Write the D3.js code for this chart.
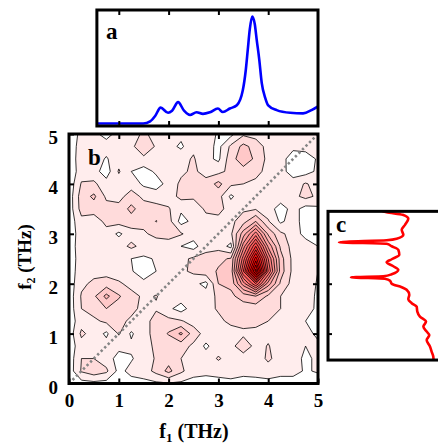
<!DOCTYPE html>
<html><head><meta charset="utf-8">
<script src="https://cdn.jsdelivr.net/npm/d3@7"></script>
<style>
body{margin:0;background:#fff}
text{font-family:"Liberation Serif","Times New Roman",serif;font-weight:bold;fill:#000}
</style>
</head><body>
<svg id="c" width="438" height="445"></svg>
<script>
// ---------------- DATA ----------------
const freqTicks = [0, 1, 2, 3, 4, 5];
const innerTicks = [1, 2, 3, 4];
const levels = [1,2,3,4,5,6,7,8,9,10,11,12,13,14,15,16,17];
// 2D amplitude on 0.25 THz grid; rows from f2 = 5 (top) down to f2 = 0, columns f1 = 0..5
const z = [
 [0.3,1.3,1.2,0.7,1.3,1.5,2.2,1.6,1.4,1.3,1.5,1.4,0.9,0.7,1.8,1.6,1.3,1.4,1.3,1.2,1.0],
 [0.3,1.5,1.6,1.4,1.3,1.8,2.6,1.9,1.4,0.8,1.8,1.5,0.7,2.2,3.3,2.6,1.6,1.5,1.2,1.3,1.2],
 [0.3,1.6,1.5,0.9,1.6,1.5,1.8,1.5,1.6,1.7,2.1,1.3,0.8,2.6,3.6,2.8,1.7,1.3,0.6,0.6,1.1],
 [0.3,1.5,1.4,0.5,2.1,1.0,0.5,1.2,1.6,1.8,2.2,1.6,1.7,2.3,2.6,2.4,1.6,1.4,0.5,0.6,1.2],
 [0.3,2.1,2.2,1.4,1.5,1.6,0.8,0.5,1.4,2.2,2.3,2.4,3.3,2.2,2.0,1.7,1.4,1.6,1.5,2.1,1.6],
 [0.4,2.5,3.2,1.8,1.7,2.4,1.8,1.6,1.5,2.3,2.2,2.5,2.4,0.8,1.7,2.0,1.6,1.6,1.7,2.3,1.8],
 [0.4,2.4,2.5,2.4,2.3,3.3,2.4,2.3,2.1,1.2,1.3,2.2,2.3,1.6,1.8,1.9,1.5,0.5,1.4,0.6,0.8],
 [0.4,1.7,1.4,2.3,2.4,2.5,2.2,3.05,2.4,0.6,1.3,1.6,1.7,1.7,2.6,4.0,2.1,0.8,1.5,0.5,0.7],
 [0.4,1.5,1.3,1.6,0.8,1.6,1.9,2.2,2.4,2.1,1.5,1.5,1.8,1.8,4.5,7.5,3.8,2.2,1.6,0.6,0.8],
 [0.4,1.6,1.5,1.4,1.6,2.2,1.7,1.6,1.5,1.0,0.6,1.7,1.6,0.7,6.5,11.0,5.8,2.8,1.6,1.6,1.0],
 [0.4,1.5,1.6,1.5,1.4,1.0,0.8,1.1,1.5,1.7,2.2,2.3,2.8,3.1,8.5,14.5,8.0,3.4,1.7,1.6,1.1],
 [0.4,1.6,1.7,1.6,1.3,1.1,0.4,1.0,1.5,1.8,2.2,2.6,3.1,3.3,10.0,17.5,9.0,3.5,1.7,1.6,1.0],
 [0.4,1.8,2.2,2.5,2.2,1.6,1.3,1.5,1.6,1.7,1.3,0.7,3.0,3.2,6.5,10.0,5.5,2.8,1.6,1.5,0.9],
 [0.4,2.1,2.8,4.3,3.1,2.4,1.8,2.05,1.6,1.5,1.6,1.5,2.2,2.8,3.4,4.0,2.8,2.0,1.6,1.5,0.8],
 [0.4,2.0,2.4,3.0,2.6,2.3,1.7,1.9,1.2,0.6,1.5,1.7,2.1,2.3,2.5,2.4,2.2,2.0,1.5,1.4,0.8],
 [0.4,1.6,1.8,2.2,2.3,1.8,1.6,2.4,2.3,2.1,1.6,1.5,1.8,2.2,2.3,2.1,2.0,1.8,1.4,1.0,0.7],
 [0.4,2.2,1.6,0.8,2.1,0.85,1.7,2.3,3.1,4.2,2.5,1.6,1.7,1.6,1.8,1.9,1.8,1.6,1.4,1.3,0.8],
 [0.4,1.6,1.5,1.4,1.3,1.2,1.6,2.2,2.2,2.4,1.8,0.8,1.6,1.7,2.6,1.7,2.05,1.6,1.5,1.0,1.2],
 [0.4,2.0,2.0,1.5,0.6,0.9,1.5,2.1,2.6,2.0,1.5,1.5,2.1,1.6,1.5,1.4,2.2,1.5,1.4,0.8,1.2],
 [0.4,2.1,2.6,2.2,0.7,1.3,1.5,2.3,3.3,2.2,1.4,1.3,1.4,1.5,1.3,1.4,1.5,1.3,1.3,0.9,1.1],
 [0.3,0.6,0.7,0.6,0.5,0.6,0.7,0.8,0.9,0.8,0.6,0.5,0.6,0.7,0.6,0.6,0.7,0.6,0.6,0.6,0.5]
];
// panel a: spectrum along f1
const specF1 = [0.56,1.0,1.49,1.63,1.73,1.84,1.99,2.07,2.19,2.31,2.43,2.56,2.69,2.83,2.99,3.09,3.23,3.37,3.49,3.55,3.59,3.63,3.68,3.73,3.77,3.82,3.87,3.94,4.0,4.17,4.44,4.70,4.87,5.0];
const specA  = [0,0,0,0.02,0.07,0.148,0.10,0.12,0.20,0.12,0.08,0.105,0.09,0.105,0.14,0.107,0.14,0.17,0.31,0.50,0.69,0.88,1.0,0.93,0.78,0.60,0.38,0.24,0.17,0.125,0.10,0.095,0.125,0.16];
// panel c: spectrum along f2
const specF2 = [0.45,0.54,0.64,0.74,0.87,0.97,1.04,1.14,1.24,1.34,1.44,1.54,1.61,1.69,1.78,1.88,1.93,2.00,2.06,2.10,2.13,2.15,2.19,2.28,2.35,2.43,2.49,2.58,2.68,2.75,2.80,2.83,2.87,2.90,2.98,3.08,3.18,3.30,3.38,3.43,3.47];
const specC  = [0.96,0.957,0.942,0.927,0.897,0.921,0.897,0.867,0.891,0.836,0.812,0.806,0.761,0.730,0.739,0.715,0.670,0.579,0.564,0.518,0.209,0.503,0.579,0.639,0.594,0.533,0.579,0.648,0.639,0.579,0.533,0.100,0.533,0.624,0.685,0.670,0.700,0.730,0.679,0.533,0.48];

// ---------------- LAYOUT ----------------
const svg = d3.select("#c");
const xS = d3.scaleLinear().domain([0,5]).range([69,318]);
const yS = d3.scaleLinear().domain([0,5]).range([383.5,134]);
const gx = d3.scaleLinear().domain([0.5,20.5]).range([0,5]);
const gy = d3.scaleLinear().domain([0.5,20.5]).range([5,0]);
const color = d3.scaleLinear().domain([0,14,17]).range(["#ffffff","#ff0000","#d40000"]);

const defs = svg.append("defs");
function clip(id,x,y,w,h){ defs.append("clipPath").attr("id",id).append("rect").attr("x",x).attr("y",y).attr("width",w).attr("height",h); }

// ---- panel b ----
const bx0 = xS(0), bx1 = xS(5), by0 = yS(5), by1 = yS(0);
clip("cb", bx0, by0, bx1-bx0, by1-by0);
const gb = svg.append("g").attr("clip-path","url(#cb)");
const proj = d3.geoTransform({point(x,y){ this.stream.point(xS(gx(x)), yS(gy(y))); }});
const path = d3.geoPath(proj);
const cont = d3.contours().size([21,21]).thresholds(levels)(z.flat());
gb.selectAll("path.ct").data(cont).join("path")
  .attr("class","ct").attr("d",path)
  .attr("fill",d=>color(d.value)).attr("stroke","#000").attr("stroke-width",0.8).attr("stroke-linejoin","round");
gb.append("line").attr("x1",xS(0)).attr("y1",yS(0)).attr("x2",xS(5)).attr("y2",yS(5))
  .attr("stroke","#858585").attr("stroke-width",2.6).attr("stroke-dasharray","2.4,2.6");

function tickAxis(gen, tr){
  const g = svg.append("g").attr("transform",tr).call(gen);
  g.select(".domain").remove();
  g.selectAll(".tick line").attr("stroke","#000").attr("stroke-width",2);
  g.selectAll("text").attr("font-size",19).attr("font-family","Liberation Serif").attr("font-weight","bold");
  return g;
}
tickAxis(d3.axisBottom(xS).tickValues(freqTicks).tickSizeInner(-5).tickSizeOuter(0).tickPadding(10).tickFormat(d3.format("d")), `translate(0,${by1})`);
const gl = tickAxis(d3.axisLeft(yS).tickValues(freqTicks).tickSizeInner(-5).tickSizeOuter(0).tickPadding(11).tickFormat(d3.format("d")), `translate(${bx0},0)`);
gl.selectAll("text").attr("dy","0.5em");
tickAxis(d3.axisTop(xS).tickValues(innerTicks).tickSizeInner(-5).tickSizeOuter(0).tickFormat(""), `translate(0,${by0})`);
tickAxis(d3.axisRight(yS).tickValues(innerTicks).tickSizeInner(-5).tickSizeOuter(0).tickFormat(""), `translate(${bx1},0)`);
svg.append("rect").attr("x",bx0).attr("y",by0).attr("width",bx1-bx0).attr("height",by1-by0)
  .attr("fill","none").attr("stroke","#000").attr("stroke-width",3);
svg.append("text").attr("x",88).attr("y",165).attr("font-size",23).text("b");

// axis titles
const xt = svg.append("text").attr("x",194).attr("y",438).attr("text-anchor","middle").attr("font-size",20);
xt.append("tspan").text("f");
xt.append("tspan").attr("font-size",13).attr("dy",4).text("1");
xt.append("tspan").attr("dy",-4).text(" (THz)");
const yt = svg.append("text").attr("transform","translate(31,257) rotate(-90)").attr("text-anchor","middle").attr("font-size",19);
yt.append("tspan").text("f");
yt.append("tspan").attr("font-size",12).attr("dy",4).text("2");
yt.append("tspan").attr("dy",-4).text(" (THz)");

// ---- panel a ----
const aLo = 0.56;
const yA = d3.scaleLinear().domain([0,1]).range([123.5,16.5]);
const ax0 = xS(aLo), ax1 = xS(5), ay0 = 10, ay1 = 126;
clip("ca", ax0, ay0, ax1-ax0, ay1-ay0);
svg.append("g").attr("clip-path","url(#ca)").append("path")
  .datum(specF1.map((f,i)=>[f,specA[i]]))
  .attr("d", d3.line().x(d=>xS(d[0])).y(d=>yA(d[1])).curve(d3.curveMonotoneX))
  .attr("fill","none").attr("stroke","#0000ff").attr("stroke-width",2.6);
tickAxis(d3.axisTop(xS).tickValues(innerTicks).tickSizeInner(-5).tickSizeOuter(0).tickFormat(""), `translate(0,${ay0})`);
tickAxis(d3.axisBottom(xS).tickValues(innerTicks).tickSizeInner(-5).tickSizeOuter(0).tickFormat(""), `translate(0,${ay1})`);
svg.append("rect").attr("x",ax0).attr("y",ay0).attr("width",ax1-ax0).attr("height",ay1-ay0)
  .attr("fill","none").attr("stroke","#000").attr("stroke-width",3);
svg.append("text").attr("x",106).attr("y",39).attr("font-size",23).text("a");

// ---- panel c ----
const cLo = 0.47, cHi = 3.45;
const xC = d3.scaleLinear().domain([0,1]).range([328,438]);
const cx0 = 328, cx1 = 446, cy0 = yS(cHi), cy1 = yS(cLo);
clip("cc", cx0, cy0, cx1-cx0, cy1-cy0);
svg.append("g").attr("clip-path","url(#cc)").append("path")
  .datum(specF2.map((f,i)=>[f,specC[i]]))
  .attr("d", d3.line().x(d=>xC(d[1])).y(d=>yS(d[0])).curve(d3.curveMonotoneY))
  .attr("fill","none").attr("stroke","#ff0000").attr("stroke-width",2.6);
tickAxis(d3.axisRight(yS).tickValues([1,2,3]).tickSizeInner(4).tickSizeOuter(0).tickFormat(""), `translate(${cx0},0)`);
svg.append("rect").attr("x",cx0).attr("y",cy0).attr("width",cx1-cx0).attr("height",cy1-cy0)
  .attr("fill","none").attr("stroke","#000").attr("stroke-width",3);
svg.append("text").attr("x",336).attr("y",232).attr("font-size",23).text("c");
</script>
</body></html>
